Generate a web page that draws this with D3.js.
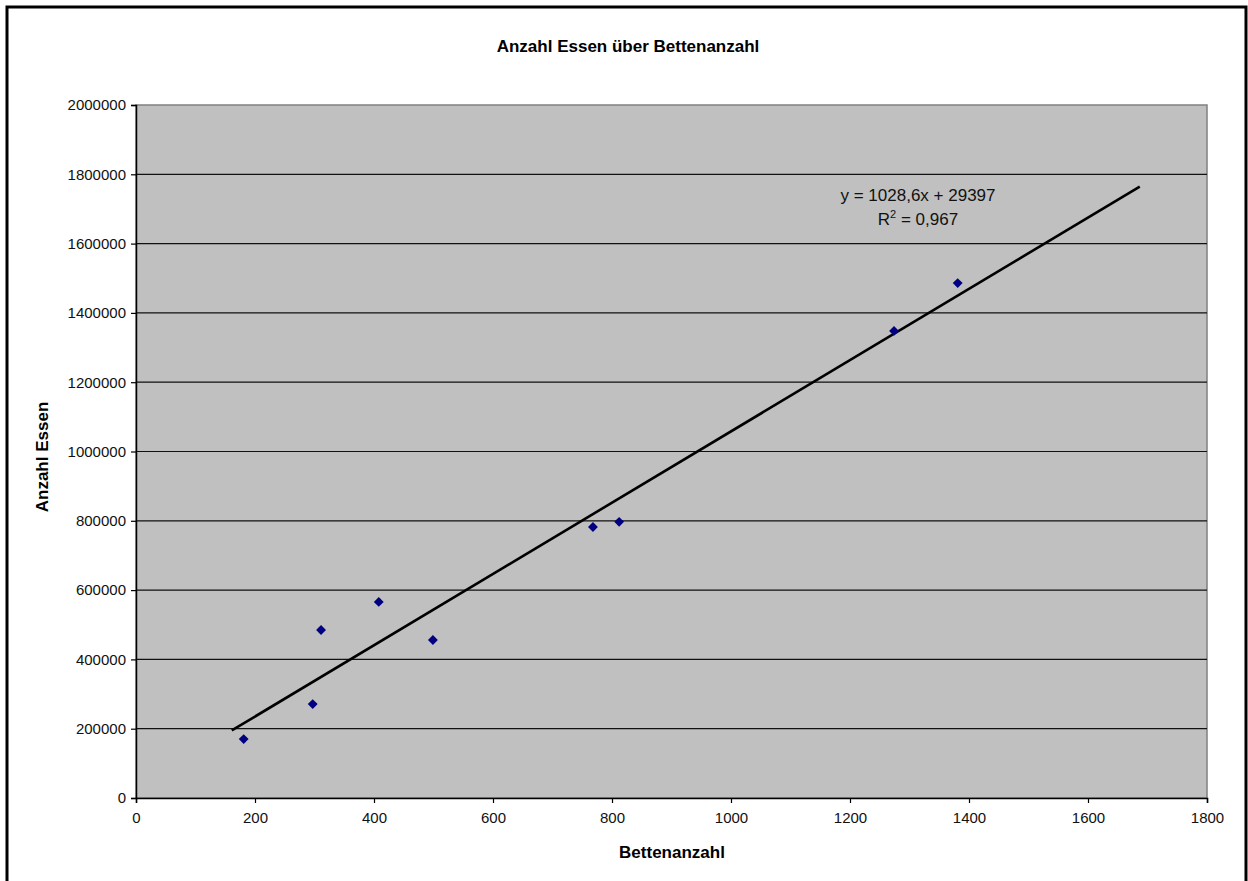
<!DOCTYPE html>
<html>
<head>
<meta charset="utf-8">
<script src="https://cdn.jsdelivr.net/npm/d3@7"></script>
<style>
  html, body { margin: 0; padding: 0; background: #ffffff; }
  svg { display: block; font-family: "Liberation Sans", Arial, sans-serif; }
</style>
</head>
<body>
<svg id="chart" width="1248" height="881"></svg>
<script>
// Beds per hospital and meals served per year
const betten = [181, 297, 311, 408, 499, 768, 812, 1274, 1381];
const essen  = [170000, 271000, 485000, 566000, 456000, 782000, 797000, 1348000, 1486000];

// Linear trend as stated in the label
const trendSlope = 1028.6;
const trendIntercept = 29397;
const trendRange = [161, 1687];
const trendLabel = ["y = 1028,6x + 29397", "R", "2", " = 0,967"];

const xTicks = [0, 200, 400, 600, 800, 1000, 1200, 1400, 1600, 1800];
const yTicks = [0, 200000, 400000, 600000, 800000, 1000000, 1200000, 1400000, 1600000, 1800000, 2000000];

const titleText = "Anzahl Essen über Bettenanzahl";
const xTitle = "Bettenanzahl";
const yTitle = "Anzahl Essen";

const svg = d3.select("#chart");
const W = 1248, H = 881;
const plot = { left: 136, right: 1207, top: 105, bottom: 798 };

// Outer frame (left, top and right edges)
svg.append("path")
  .attr("d", `M7,${H} L7,7 L1246,7 L1246,${H}`)
  .attr("fill", "none").attr("stroke", "#000").attr("stroke-width", 3);

const x = d3.scaleLinear().domain([0, 1800]).range([plot.left, plot.right]);
const y = d3.scaleLinear().domain([0, 2000000]).range([plot.bottom, plot.top]);

// Plot area
svg.append("rect")
  .attr("x", plot.left).attr("y", plot.top)
  .attr("width", plot.right - plot.left).attr("height", plot.bottom - plot.top)
  .attr("fill", "#c0c0c0").attr("stroke", "#808080").attr("stroke-width", 1.5);

// Horizontal gridlines
svg.append("g").selectAll("line")
  .data(yTicks.filter(v => v > 0 && v < 2000000))
  .join("line")
  .attr("x1", plot.left).attr("x2", plot.right)
  .attr("y1", d => y(d)).attr("y2", d => y(d))
  .attr("stroke", "#111").attr("stroke-width", 1.2);

// Axes
const yAxis = svg.append("g")
  .attr("transform", `translate(${plot.left},0)`)
  .call(d3.axisLeft(y).tickValues(yTicks).tickFormat(d3.format("d")).tickSize(5).tickPadding(5));
const xAxis = svg.append("g")
  .attr("transform", `translate(0,${plot.bottom})`)
  .call(d3.axisBottom(x).tickValues(xTicks).tickFormat(d3.format("d")).tickSize(5).tickPadding(9));

[yAxis, xAxis].forEach(g => {
  g.select(".domain").attr("stroke", "#000").attr("stroke-width", 1.5);
  g.selectAll(".tick line").attr("stroke", "#000").attr("stroke-width", 1.2);
  g.selectAll(".tick text")
    .attr("fill", "#111")
    .style("font-family", "'Liberation Sans', Arial, sans-serif")
    .style("font-size", "15px");
});

// Trendline
svg.append("line")
  .attr("x1", x(trendRange[0])).attr("y1", y(trendSlope * trendRange[0] + trendIntercept))
  .attr("x2", x(trendRange[1])).attr("y2", y(trendSlope * trendRange[1] + trendIntercept))
  .attr("stroke", "#000").attr("stroke-width", 2.6);

// Data points as diamonds
svg.append("g").selectAll("path")
  .data(betten.map((b, i) => [b, essen[i]]))
  .join("path")
  .attr("d", d3.symbol().type(d3.symbolDiamond2).size(62))
  .attr("transform", d => `translate(${x(d[0])},${y(d[1])})`)
  .attr("fill", "#000080");

// Trend equation
const eq = svg.append("g").attr("font-size", 17).attr("fill", "#111").attr("text-anchor", "middle");
eq.append("text").attr("x", 918).attr("y", 201).text(trendLabel[0]);
const r2 = eq.append("text").attr("x", 918).attr("y", 225);
r2.append("tspan").text(trendLabel[1]);
r2.append("tspan").attr("dy", -7).attr("font-size", 11).text(trendLabel[2]);
r2.append("tspan").attr("dy", 7).text(trendLabel[3]);

// Titles
svg.append("text")
  .attr("x", 628).attr("y", 52)
  .attr("text-anchor", "middle").attr("font-size", 17).attr("font-weight", "bold")
  .text(titleText);
svg.append("text")
  .attr("x", 672).attr("y", 858)
  .attr("text-anchor", "middle").attr("font-size", 17).attr("font-weight", "bold")
  .text(xTitle);
svg.append("text")
  .attr("transform", `translate(48,457) rotate(-90)`)
  .attr("text-anchor", "middle").attr("font-size", 17).attr("font-weight", "bold")
  .text(yTitle);
</script>
</body>
</html>
